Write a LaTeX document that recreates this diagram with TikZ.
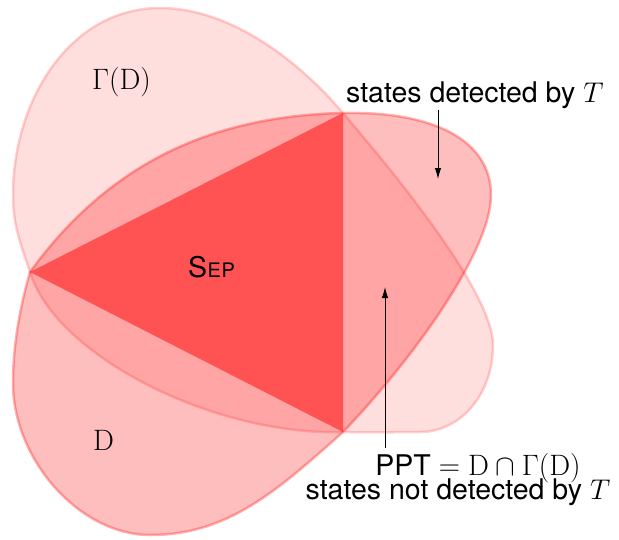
\RequirePackage{fix-cm}
\documentclass[tikz,border=0pt]{standalone}
\usepackage{fontspec}
\setsansfont{TeX Gyre Heros}
\usetikzlibrary{arrows.meta}
\begin{document}
\begin{tikzpicture}[x=1pt,y=-1pt,
  gam/.style={fill=red, fill opacity=0.13, draw=red, draw opacity=0.18, line width=2.5pt},
  dset/.style={fill=red, fill opacity=0.255, draw=red, draw opacity=0.3, line width=2.5pt},
  sepset/.style={fill=red, fill opacity=0.5},
  lbl/.style={font=\fontsize{29.5}{31}\selectfont, inner sep=0pt},
  txt/.style={font=\sffamily\fontsize{28.5}{30}\selectfont, inner sep=0pt},
  arr/.style={-{Latex[length=11pt,width=6.5pt]}, line width=0.9pt}]
\useasboundingbox (0,0) rectangle (619,539);
\coordinate (A) at (30,272);
\coordinate (B) at (343,113);
\coordinate (C) at (343,432);
% Gamma(D)
\draw[gam] (A) .. controls (20,242) and (13,225) .. (13,195)
  .. controls (13,100) and (70,8) .. (160,8)
  .. controls (230,8) and (298,60) .. (B)
  .. controls (403,183) and (493,295) .. (493,345)
  .. controls (493,395) and (460,432) .. (420,432)
  .. controls (395,432) and (370,433) .. (C)
  .. controls (213,436) and (55,355) .. (A) -- cycle;
% D
\draw[dset] (A) .. controls (110,162) and (213,116) .. (B)
  .. controls (433,111) and (491,140) .. (491,195)
  .. controls (491,255) and (403,370) .. (C)
  .. controls (273,495) and (225,535) .. (150,535)
  .. controls (80,535) and (13,460) .. (13,383)
  .. controls (13,345) and (20,307) .. (A) -- cycle;
% Sep
\fill[sepset] (A) -- (B) -- (C) -- cycle;
% labels
\node[lbl, anchor=base west] (gl) at (92,89) {$\Gamma(\mathrm{D})$};
\node[lbl, anchor=base west] (dl) at (93,450) {$\mathrm{D}$};
\node[txt, anchor=base west] (sep) at (188,277) {S{\fontsize{20}{22}\selectfont\kern0.5pt E\kern0.5pt P}};
\node[txt, anchor=base west] (det) at (346,102) {states detected by $T$};
\node[txt, anchor=base] (ppt) at (478,475) {PPT {\fontsize{29.5}{31}\selectfont$=\mathrm{D}\cap\Gamma(\mathrm{D})$}};
\node[txt, anchor=base] (ndet) at (458,499) {states not detected by $T$};
% arrows
\coordinate (a1s) at (438,110);
\coordinate (a1e) at (438,179);
\coordinate (a2s) at (385,448);
\coordinate (a2e) at (385,287);
\draw[arr] (a1s) -- (a1e);
\draw[arr] (a2s) -- (a2e);
\end{tikzpicture}
\end{document}
